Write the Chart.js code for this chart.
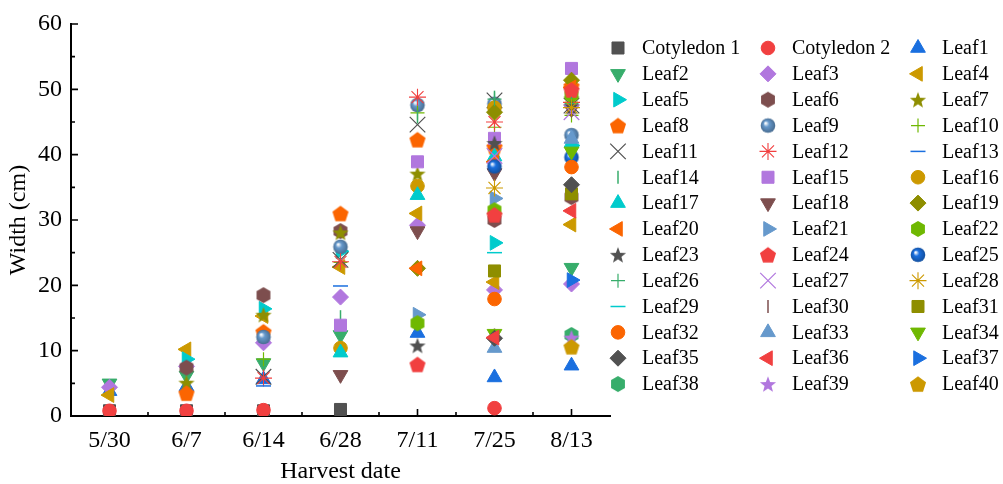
<!DOCTYPE html>
<html>
<head>
<meta charset="utf-8">
<script src="https://cdn.jsdelivr.net/npm/chart.js@4.4.1/dist/chart.umd.min.js"></script>
<style>
  body { margin: 0; background: #fff; }
  canvas { display: block; }
</style>
</head>
<body>
<canvas id="chart" width="1003" height="484"></canvas>
<script>
// harvest dates (x categories)
const dates = ['5/30', '6/7', '6/14', '6/28', '7/11', '7/25', '8/13'];

const seriesNames = ['Cotyledon 1', 'Cotyledon 2'];
for (let n = 1; n <= 40; n++) seriesNames.push('Leaf' + n);

// widths in cm, one value per harvest date (null = not measured)
const cot1   = [0.8, 0.8, 0.8, 1.0, null, null, null];
const cot2   = [0.8, 0.8, 0.9, null, null, 1.2, null];
const leaf1  = [3.8, 4.5, 5.6, null, 12.7, 5.9, 7.7];
const leaf2  = [5.0, 6.2, 8.1, 12.4, null, null, 22.7];
const leaf3  = [4.4, 7.6, 11.2, 18.2, 29.2, 19.3, 20.2];
const leaf4  = [3.2, 10.2, 15.3, 22.8, 31.0, 20.5, 29.3];
const leaf5  = [null, 8.7, 16.4, 25.2, null, 26.5, 41.4];
const leaf6  = [null, 7.4, 18.5, 28.3, null, 30.0, 33.5];
const leaf7  = [null, 5.1, 15.5, 28.1, 37.1, null, 48.6];
const leaf8  = [null, 3.5, 12.9, 31.0, 42.3, 41.2, 50.5];
const leaf9  = [null, null, 12.1, 25.9, 47.6, 47.8, 43.0];
const leaf10 = [null, null, 8.7, 23.5, 46.4, 44.2, 46.0];
const leaf11 = [null, null, 6.0, 23.9, 44.6, 48.3, 47.5];
const leaf12 = [null, null, 5.8, 23.6, 48.8, 45.0, 48.0];
const leaf13 = [null, null, 4.6, 19.9, null, null, null];
const leaf14 = [null, null, null, 15.2, 45.8, 48.8, 47.0];
const leaf15 = [null, null, null, 13.9, 38.9, 42.5, 53.2];
const leaf16 = [null, null, null, 10.4, 35.2, 47.2, null];
const leaf17 = [null, null, null, 9.7, 33.8, 39.7, 41.8];
const leaf18 = [null, null, null, 6.3, 28.3, 37.2, 47.0];
const leaf19 = [null, null, null, null, 22.6, 46.5, 51.4];
const leaf20 = [null, null, null, null, 22.6, 38.9, 50.3];
const leaf21 = [null, null, null, null, 15.5, 33.3, null];
const leaf22 = [null, null, null, null, 14.2, 31.5, 49.1];
const leaf23 = [null, null, null, null, 10.8, 41.8, 47.3];
const leaf24 = [null, null, null, null, 7.9, 30.8, 49.9];
const leaf25 = [null, null, null, null, null, 38.2, 39.6];
const leaf26 = [null, null, null, null, null, 48.5, 47.8];
const leaf27 = [null, null, null, null, null, 39.8, 46.5];
const leaf28 = [null, null, null, null, null, 34.9, 47.2];
const leaf29 = [null, null, null, null, null, 25.0, null];
const leaf30 = [null, null, null, null, null, 12.4, null];
const leaf31 = [null, null, null, null, null, 22.2, 34.0];
const leaf32 = [null, null, null, null, null, 17.9, 38.1];
const leaf33 = [null, null, null, null, null, 10.4, 42.4];
const leaf34 = [null, null, null, null, null, 12.6, 40.5];
const leaf35 = [null, null, null, null, null, 11.9, 35.4];
const leaf36 = [null, null, null, null, null, 12.0, 31.4];
const leaf37 = [null, null, null, null, null, null, 20.8];
const leaf38 = [null, null, null, null, null, null, 12.4];
const leaf39 = [null, null, null, null, null, null, 12.0];
const leaf40 = [null, null, null, null, null, null, 10.6];

const seriesValues = [cot1, cot2, leaf1, leaf2, leaf3, leaf4, leaf5, leaf6, leaf7, leaf8, leaf9, leaf10,
  leaf11, leaf12, leaf13, leaf14, leaf15, leaf16, leaf17, leaf18, leaf19, leaf20, leaf21, leaf22,
  leaf23, leaf24, leaf25, leaf26, leaf27, leaf28, leaf29, leaf30, leaf31, leaf32, leaf33, leaf34,
  leaf35, leaf36, leaf37, leaf38, leaf39, leaf40];

// Origin-like colour and symbol cycles
const palette = ['#515151', '#F14040', '#1A6FDF', '#37AD6B', '#B177DE', '#CC9900',
  '#00CBCC', '#7D4E4E', '#8E8E00', '#FB6501', '#6699CC', '#6FB802'];
const shapeCycle = ['square', 'circle', 'up', 'down', 'diamond', 'left', 'right', 'hexagon',
  'star', 'pentagon', 'sphere', 'plus', 'x', 'asterisk', 'hline', 'vline'];

const FONT = '"Liberation Serif", "Times New Roman", serif';
Chart.defaults.font.family = FONT;
Chart.defaults.color = '#000';

function shade(hex, f) {
  const n = parseInt(hex.slice(1), 16);
  const r = Math.round(((n >> 16) & 255) * f), g = Math.round(((n >> 8) & 255) * f), b = Math.round((n & 255) * f);
  return 'rgb(' + Math.min(r, 255) + ',' + Math.min(g, 255) + ',' + Math.min(b, 255) + ')';
}

// polygon / sphere symbols that chart.js has no built-in style for
function makeImage(shape, color) {
  const c = document.createElement('canvas');
  c.width = 18; c.height = 18;
  const g = c.getContext('2d');
  const cx = 9, cy = 9;
  g.fillStyle = color;
  g.beginPath();
  if (shape === 'hexagon' || shape === 'pentagon') {
    const k = shape === 'hexagon' ? 6 : 5;
    const r = shape === 'hexagon' ? 8 : 8.5;
    for (let i = 0; i < k; i++) {
      const a = -Math.PI / 2 + i * 2 * Math.PI / k;
      const px = cx + r * Math.cos(a), py = cy + (shape === 'pentagon' ? 0.8 : 0) + r * Math.sin(a);
      if (i === 0) g.moveTo(px, py); else g.lineTo(px, py);
    }
    g.closePath();
    g.fill();
  } else if (shape === 'star') {
    for (let i = 0; i < 10; i++) {
      const a = -Math.PI / 2 + i * Math.PI / 5;
      const r = i % 2 === 0 ? 8.5 : 3.6;
      const px = cx + r * Math.cos(a), py = cy + 0.8 + r * Math.sin(a);
      if (i === 0) g.moveTo(px, py); else g.lineTo(px, py);
    }
    g.closePath();
    g.fill();
  } else if (shape === 'sphere') {
    const grad = g.createRadialGradient(cx - 2.5, cy - 2.5, 0.5, cx, cy, 7.5);
    grad.addColorStop(0, '#ffffff');
    grad.addColorStop(0.35, color);
    grad.addColorStop(1, shade(color, 0.7));
    g.fillStyle = grad;
    g.arc(cx, cy, 7.3, 0, Math.PI * 2);
    g.fill();
  }
  return c;
}

function markerStyle(i) {
  const shape = shapeCycle[i % shapeCycle.length];
  const color = palette[i % palette.length];
  const s = { pointStyle: 'circle', rotation: 0, radius: 6.5, borderWidth: 1, color: color };
  switch (shape) {
    case 'square': s.pointStyle = 'rect'; s.radius = 8.5; break;
    case 'circle': s.pointStyle = 'circle'; s.radius = 6.8; break;
    case 'up': s.pointStyle = 'triangle'; s.radius = 8.5; break;
    case 'down': s.pointStyle = 'triangle'; s.radius = 8.5; s.rotation = 180; break;
    case 'left': s.pointStyle = 'triangle'; s.radius = 8.5; s.rotation = 270; break;
    case 'right': s.pointStyle = 'triangle'; s.radius = 8.5; s.rotation = 90; break;
    case 'diamond': s.pointStyle = 'rectRot'; s.radius = 8; break;
    case 'plus': s.pointStyle = 'cross'; s.radius = 7; s.borderWidth = 1.2; break;
    case 'x': s.pointStyle = 'crossRot'; s.radius = 11; s.borderWidth = 1.2; break;
    case 'asterisk': s.pointStyle = 'star'; s.radius = 8.5; s.borderWidth = 1.1; break;
    case 'hline': s.pointStyle = 'line'; s.radius = 7.5; s.borderWidth = 1.5; break;
    case 'vline': s.pointStyle = 'line'; s.radius = 6.5; s.rotation = 90; s.borderWidth = 1.5; break;
    default: s.pointStyle = makeImage(shape, color); s.borderWidth = 0;
  }
  return s;
}

const styles = seriesNames.map((n, i) => markerStyle(i));

const datasets = seriesNames.map((name, i) => ({
  label: name,
  data: seriesValues[i],
  showLine: false,
  pointStyle: styles[i].pointStyle,
  pointRadius: styles[i].radius,
  pointRotation: styles[i].rotation,
  pointBorderWidth: styles[i].borderWidth,
  pointBackgroundColor: styles[i].color,
  pointBorderColor: styles[i].color,
  order: seriesNames.length - i   // later series drawn on top
}));

// inward axis ticks and the three-column legend
const extras = {
  id: 'extras',
  beforeDatasetsDraw(chart) {
    const ctx = chart.ctx, area = chart.chartArea;
    const xs = chart.scales.x, ys = chart.scales.y;
    ctx.save();
    ctx.strokeStyle = '#000';
    ctx.lineWidth = 1.6;
    ctx.beginPath();
    for (let v = 0; v <= 60; v += 5) {
      const y = ys.getPixelForValue(v);
      ctx.moveTo(area.left, y);
      ctx.lineTo(area.left + (v % 10 === 0 ? 7 : 4), y);
    }
    for (let i = 0; i < dates.length; i++) {
      const x = xs.getPixelForValue(i);
      ctx.moveTo(x, area.bottom);
      ctx.lineTo(x, area.bottom - 7);
      if (i < dates.length - 1) {
        const xm = (x + xs.getPixelForValue(i + 1)) / 2;
        ctx.moveTo(xm, area.bottom);
        ctx.lineTo(xm, area.bottom - 4);
      }
    }
    ctx.stroke();
    ctx.restore();
  },
  afterDraw(chart) {
    const ctx = chart.ctx;
    ctx.save();
    ctx.font = '20px ' + FONT;
    ctx.textBaseline = 'middle';
    ctx.textAlign = 'left';
    seriesNames.forEach((name, i) => {
      const col = i % 3, row = Math.floor(i / 3);
      const mx = 618 + col * 150, my = 48 + row * 25.85;
      const s = styles[i];
      ctx.fillStyle = s.color;
      ctx.strokeStyle = s.color;
      ctx.lineWidth = s.borderWidth;
      Chart.helpers.drawPoint(ctx, {
        pointStyle: s.pointStyle, rotation: s.rotation,
        radius: s.radius, borderWidth: s.borderWidth
      }, mx, my);
      ctx.fillStyle = '#000';
      ctx.fillText(name, mx + 24, my + 1);
    });
    ctx.restore();
  }
};

new Chart(document.getElementById('chart'), {
  type: 'line',
  data: { labels: dates, datasets: datasets },
  options: {
    responsive: false,
    animation: false,
    events: [],
    layout: { padding: { left: 0, right: 393, top: 24, bottom: 0 } },
    plugins: { legend: { display: false }, tooltip: { enabled: false } },
    scales: {
      x: {
        offset: true,
        grid: { display: false, drawTicks: false },
        border: { display: true, color: '#000', width: 2 },
        ticks: { font: { size: 24 }, padding: 10, color: '#000' },
        title: { display: true, text: 'Harvest date', font: { size: 24 }, color: '#000', padding: { top: 0, bottom: -2 } },
        afterFit: s => { s.height = 68; }
      },
      y: {
        min: 0, max: 60,
        grid: { display: false, drawTicks: false },
        border: { display: true, color: '#000', width: 2 },
        ticks: { stepSize: 10, font: { size: 24 }, padding: 9, color: '#000' },
        title: { display: true, text: 'Width (cm)', font: { size: 24 }, color: '#000', padding: { top: 4, bottom: 0 } },
        afterFit: s => { s.width = 71; }
      }
    }
  },
  plugins: [extras]
});
</script>
</body>
</html>
